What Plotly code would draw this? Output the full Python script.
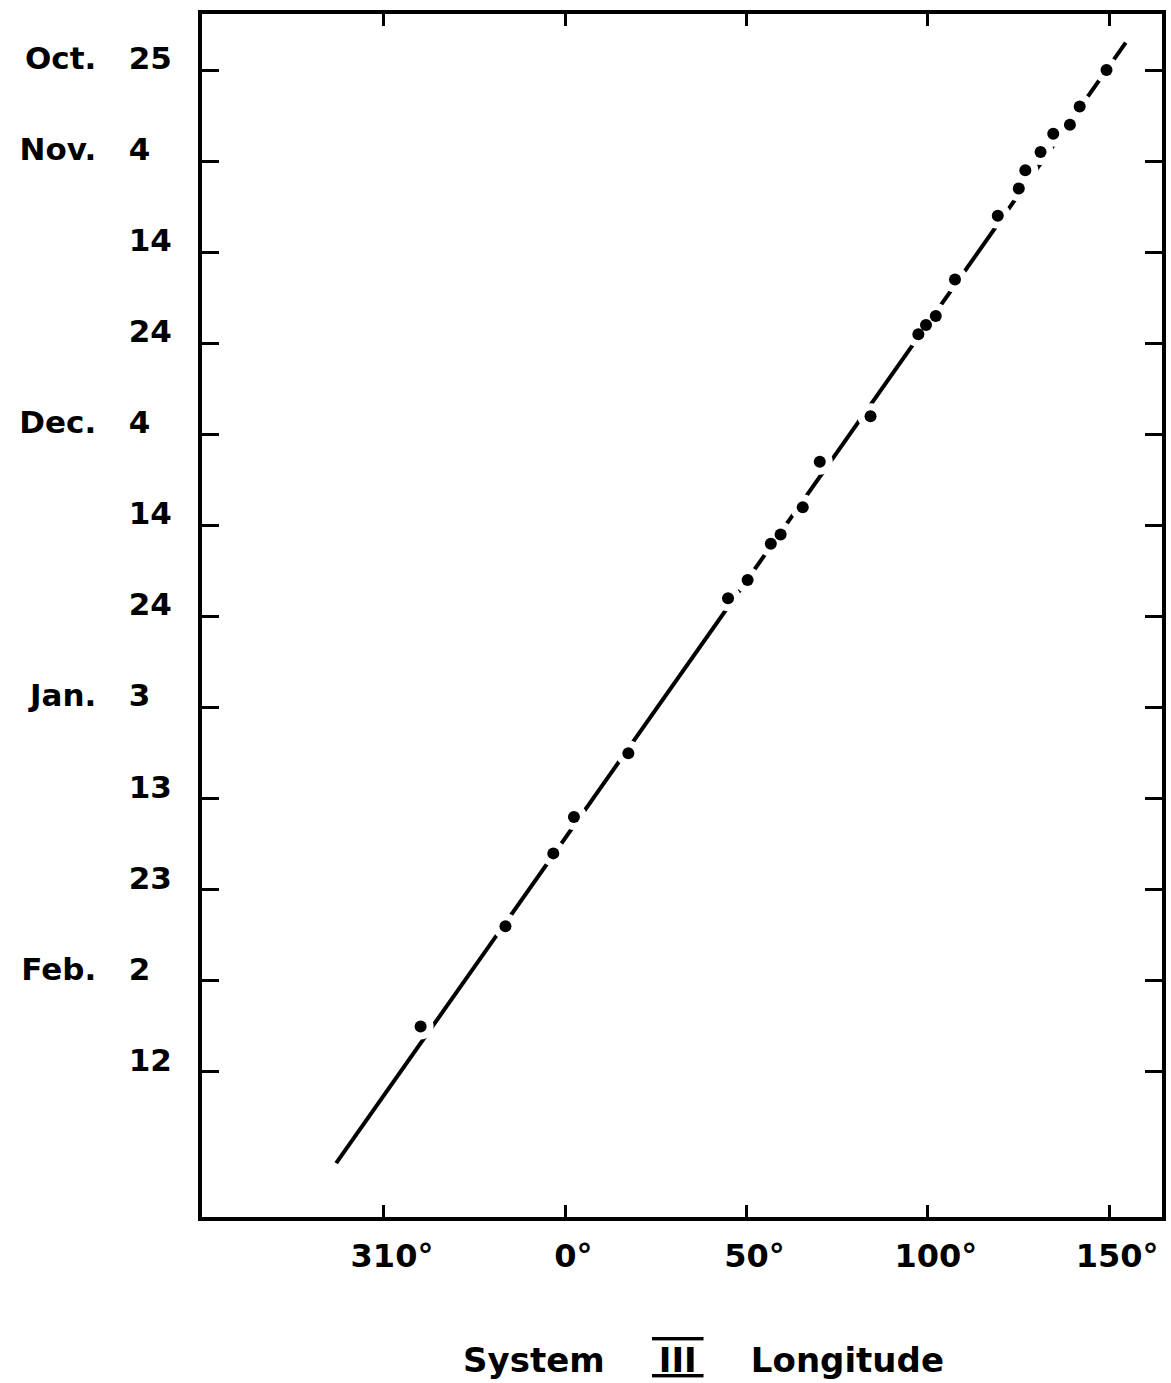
import plotly.graph_objects as go

# ---- data ----
# observation day (days after Oct. 25) and System III longitude (deg, 310 deg = -50)
obs_day = [0, 4, 6, 7, 9, 11, 13, 16, 23, 27, 28, 29, 38, 43, 48, 51, 52, 56, 58, 75, 82, 86, 94, 105]
obs_lon = [149.3, 141.9, 139.2, 134.6, 131.1, 126.9, 125.1, 119.3, 107.5, 102.2, 99.5, 97.4,
           84.2, 70.2, 65.5, 59.4, 56.7, 50.3, 44.9, 17.4, 2.4, -3.3, -16.5, -39.9]

# fitted drift line end points
line_day = [-3.0, 120.0]
line_lon = [154.6, -63.2]

# axis ticks
y_tickvals = [0, 10, 20, 30, 40, 50, 60, 70, 80, 90, 100, 110]
y_ticktext = ["Oct.\u00a0\u00a0\u00a025", "Nov.\u00a0\u00a0\u00a04\u2007", "14", "24",
              "Dec.\u00a0\u00a0\u00a04\u2007", "14", "24", "Jan.\u00a0\u00a0\u00a03\u2007",
              "13", "23", "Feb.\u00a0\u00a0\u00a02\u2007", "12"]
x_tickvals = [-50, 0, 50, 100, 150]
x_ticktext = ["310°", "0°", "50°", "100°", "150°"]
x_title = ("System\u00a0\u00a0\u00a0\u00a0<span style='text-decoration:overline underline'>"
           "\u2009III\u2009</span>\u00a0\u00a0\u00a0\u00a0Longitude")

FONT = "DejaVu Sans"

fig = go.Figure()

# drift line
fig.add_trace(go.Scatter(x=line_lon, y=line_day, mode="lines",
                         line=dict(color="black", width=4), hoverinfo="skip",
                         showlegend=False))
# white halo that breaks the line around each observation
fig.add_trace(go.Scatter(x=obs_lon, y=obs_day, mode="markers",
                         marker=dict(color="white", size=26, line=dict(width=0)),
                         hoverinfo="skip", showlegend=False))
# observations
fig.add_trace(go.Scatter(x=obs_lon, y=obs_day, mode="markers",
                         marker=dict(color="black", size=12, line=dict(width=0)),
                         showlegend=False))

axis_common = dict(showgrid=False, zeroline=False, showline=True, linecolor="black",
                   linewidth=4, mirror="ticks", ticks="inside", tickcolor="black",
                   tickwidth=3)

fig.update_xaxes(range=[-100.2, 164.6], tickvals=x_tickvals, ticktext=x_ticktext,
                 ticklen=12, tickfont=dict(family=FONT, size=32, color="black", weight="bold"),
                 ticklabelstandoff=8, ticklabelshift=8,
                 **axis_common)
fig.update_yaxes(range=[125.92, -6.15], tickvals=y_tickvals, ticktext=y_ticktext,
                 ticklen=17, tickfont=dict(family=FONT, size=31, color="black", weight="bold"),
                 ticklabelstandoff=20, ticklabelshift=12,
                 **axis_common)

fig.add_annotation(text=x_title, xref="paper", yref="paper", x=0.522, y=-0.119,
                   xanchor="center", yanchor="middle", showarrow=False,
                   font=dict(family=FONT, size=34, color="black", weight="bold"))

fig.update_layout(width=1171, height=1383,
                  margin=dict(l=202, r=9, t=14, b=166, autoexpand=False),
                  paper_bgcolor="white", plot_bgcolor="white",
                  showlegend=False)

fig.write_html("out.html", config={"displayModeBar": False},
               post_script="document.body.style.margin='0';")
